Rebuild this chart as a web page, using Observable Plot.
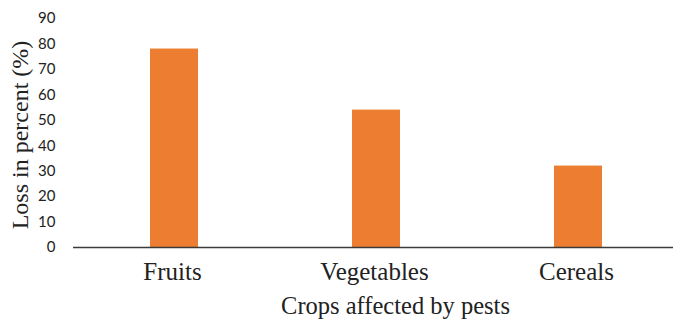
<!DOCTYPE html>
<html>
<head>
<meta charset="utf-8">
<script src="https://cdn.jsdelivr.net/npm/d3@7"></script>
<script src="https://cdn.jsdelivr.net/npm/@observablehq/plot@0.6"></script>
<style>
  html, body { margin: 0; padding: 0; background: #fff; }
</style>
</head>
<body>
<div id="chart"></div>
<script>
const crops = ["Fruits", "Vegetables", "Cereals"];
const losses = [78, 54, 32];
const yTicks = [0, 10, 20, 30, 40, 50, 60, 70, 80, 90];
const xTitle = "Crops affected by pests";
const yTitle = "Loss in percent (%)";

const data = crops.map((c, i) => ({crop: c, loss: losses[i]}));

const chart = Plot.plot({
  width: 673,
  height: 323,
  marginTop: 18,
  marginBottom: 76,
  marginLeft: 73,
  marginRight: 0,
  style: {background: "#fff"},
  x: {domain: crops, range: [73, 679], padding: 0},
  y: {domain: [0, 90], ticks: yTicks},
  marks: [
    Plot.barY(data, {x: "crop", y: "loss", fill: "#ED7D31", insetLeft: 77, insetRight: 77}),
    Plot.ruleY([0], {stroke: "#3a3a3a", strokeWidth: 1.5}),
    Plot.axisY({
      ticks: yTicks, tickSize: 0, tickPadding: 18,
      fontFamily: "Lato", fontSize: 15, fill: "#222", label: null
    }),
    Plot.axisX({
      tickSize: 0, tickPadding: 15, dx: -2,
      fontFamily: "Liberation Serif", fontSize: 25, fill: "#222", label: null
    }),
    Plot.text([yTitle], {
      frameAnchor: "left", textAnchor: "middle", rotate: -90, dx: -53, dy: 2,
      fontFamily: "Liberation Serif", fontSize: 24, fill: "#222"
    }),
    Plot.text([xTitle], {
      frameAnchor: "bottom", textAnchor: "middle", lineAnchor: "bottom", dy: 66, dx: 22,
      fontFamily: "Liberation Serif", fontSize: 24.5, fill: "#222"
    })
  ]
});
document.getElementById("chart").appendChild(chart);
</script>
</body>
</html>
